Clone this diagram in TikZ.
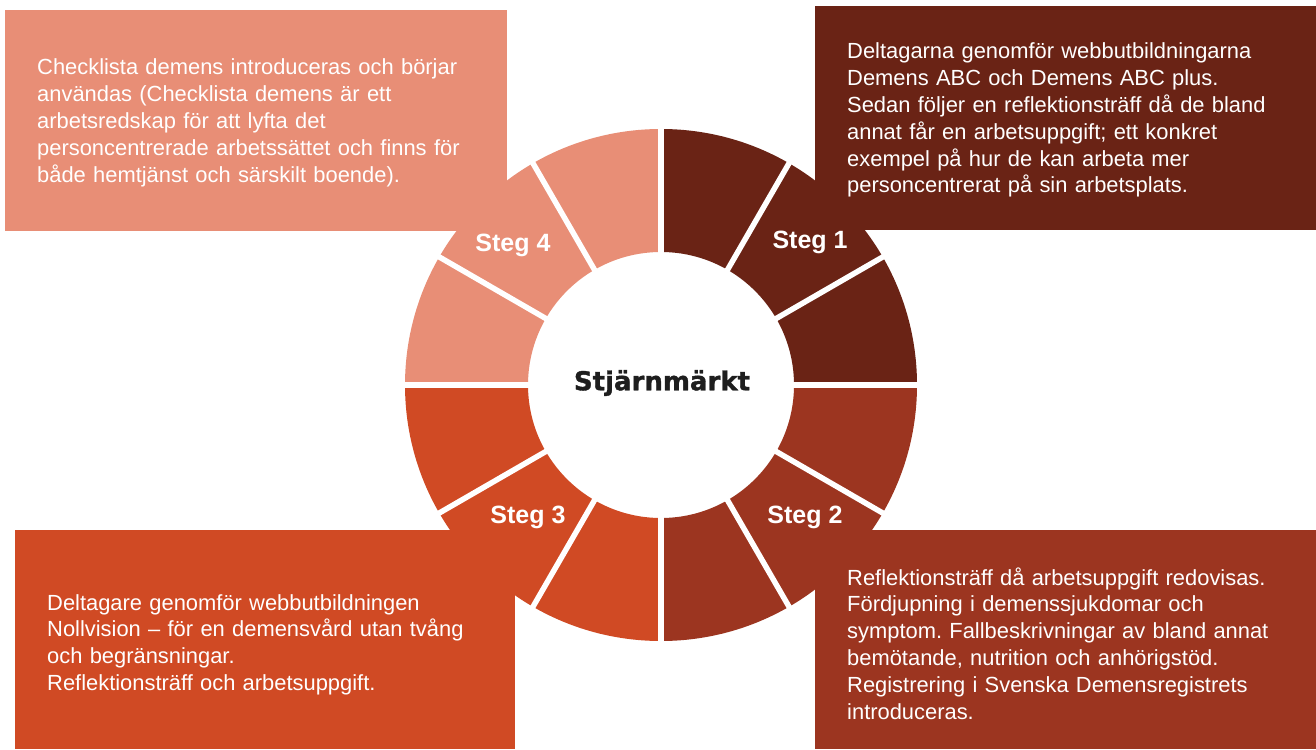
\documentclass[tikz,border=0pt]{standalone}
\usepackage{fontspec}
\setmainfont{Liberation Sans}
\newfontfamily\heavyfont{DejaVu Sans}[BoldFeatures={FakeBold=1.3}]
\usetikzlibrary{calc}
\definecolor{peach}{HTML}{E88E76}
\definecolor{darkbrown}{HTML}{6A2315}
\definecolor{rust}{HTML}{9C3520}
\definecolor{orangered}{HTML}{D04A24}
\definecolor{nearblack}{HTML}{1E1E1E}
\frenchspacing
\tikzset{
  txt/.style={anchor=base west, text width=490pt, align=left, inner sep=0pt, text=white,
    font=\frenchspacing\fontsize{21.9}{26.8}\selectfont},
  steglabel/.style={inner sep=0pt, text=white, font=\bfseries\fontsize{25}{30}\selectfont},
  gapline/.style={white, line width=5.5pt},
}
\newcommand{\ringsector}[3]{%
  \fill[#3] ([shift={(661,385)}]#1:256) arc[start angle=#1, end angle=#2, radius=256]
    -- ([shift={(661,385)}]#2:133) arc[start angle=#2, end angle=#1, radius=133] -- cycle;}
\begin{document}
\begin{tikzpicture}[x=1pt,y=-1pt]
\useasboundingbox (0,0) rectangle (1316,749);
\fill[white] (0,0) rectangle (1316,749);
\coordinate (c) at (661,385);
% boxes
\fill[peach] (5,10) rectangle (507,231);
\fill[darkbrown] (815,6) rectangle (1316,230);
\fill[orangered] (15,530) rectangle (515,749);
\fill[rust] (815,530) rectangle (1316,749);
% ring (angles clockwise because y points down)
\ringsector{270}{360}{darkbrown}
\ringsector{180}{270}{peach}
\ringsector{90}{180}{orangered}
\ringsector{0}{90}{rust}
\foreach \a in {0,30,...,330}
  \draw[gapline] ([shift={(c)}]\a:128) -- ([shift={(c)}]\a:260);
% texts
\node[txt] (t4) at (37,75) {Checklista demens introduceras och börjar\\
användas (Checklista demens är ett\\
arbetsredskap för att lyfta det\\
personcentrerade arbetssättet och finns för\\
både hemtjänst och särskilt boende).};
\node[txt] (t1) at (847,59) {Deltagarna genomför webbutbildningarna\\
Demens ABC och Demens ABC plus.\\
Sedan följer en reflektionsträff då de bland\\
annat får en arbetsuppgift; ett konkret\\
exempel på hur de kan arbeta mer\\
personcentrerat på sin arbetsplats.};
\node[txt] (t3) at (47,610) {Deltagare genomför webbutbildningen\\
Nollvision – för en demensvård utan tvång\\
och begränsningar.\\
Reflektionsträff och arbetsuppgift.};
\node[txt] (t2) at (847,585) {Reflektionsträff då arbetsuppgift redovisas.\\
Fördjupning i demenssjukdomar och\\
symptom. Fallbeskrivningar av bland annat\\
bemötande, nutrition och anhörigstöd.\\
Registrering i Svenska Demensregistrets\\
introduceras.};
% step labels
\node[steglabel] (s4) at (513,245) {Steg 4};
\node[steglabel] (s1) at (810,242) {Steg 1};
\node[steglabel] (s2) at (805,517) {Steg 2};
\node[steglabel] (s3) at (528,517) {Steg 3};
% centre
\node[inner sep=0pt, text=nearblack, font=\heavyfont\bfseries\fontsize{26}{30}\selectfont] (centre) at (662,383) {Stjärnmärkt};
\end{tikzpicture}
\end{document}
